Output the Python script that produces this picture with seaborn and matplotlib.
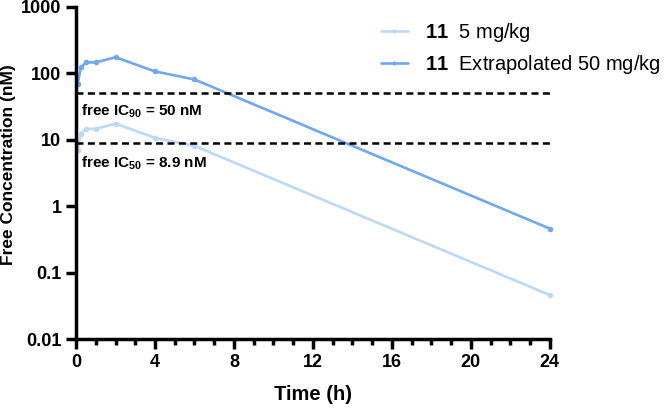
import numpy as np
import pandas as pd
import matplotlib
matplotlib.use("Agg")
import matplotlib.pyplot as plt
import seaborn as sns
from matplotlib.ticker import FixedLocator, MultipleLocator, NullLocator

# PK data
time_h = [0.083, 0.25, 0.5, 1, 2, 4, 6, 24]
conc_5 = [7.0, 12.3, 14.6, 14.6, 17.5, 10.7, 8.1, 0.046]
conc_50 = [70, 123, 146, 146, 175, 107, 81, 0.46]
labels = [r"$\mathbf{11}$  5 mg/kg", r"$\mathbf{11}$  Extrapolated 50 mg/kg"]
colors = ["#bcd8f8", "#6ea8ef"]
ic90 = 50
ic50 = 8.9
y_ticks = [0.01, 0.1, 1, 10, 100, 1000]
y_ticklabels = ["0.01", "0.1", "1", "10", "100", "1000"]
x_ticks = [0, 4, 8, 12, 16, 20, 24]

df = pd.DataFrame({
    "time": time_h * 2,
    "conc": conc_5 + conc_50,
    "dose": [labels[0]] * len(time_h) + [labels[1]] * len(time_h),
})

sns.set_style("ticks")
plt.rcParams["font.family"] = ["Liberation Sans", "DejaVu Sans"]
plt.rcParams["mathtext.fontset"] = "custom"
plt.rcParams["mathtext.rm"] = "Liberation Sans"
plt.rcParams["mathtext.bf"] = "Liberation Sans:bold"
plt.rcParams["text.color"] = "black"
plt.rcParams["axes.labelcolor"] = "black"
plt.rcParams["xtick.color"] = "black"
plt.rcParams["ytick.color"] = "black"
plt.rcParams["axes.edgecolor"] = "black"

fig = plt.figure(figsize=(6.64, 4.09), dpi=100)
ax = fig.add_axes([0.1145, 0.171, 0.7135, 0.812])

sns.lineplot(data=df, x="time", y="conc", hue="dose", palette=colors,
             marker="o", markersize=4, markeredgewidth=0, linewidth=1.9,
             ax=ax, legend=False, clip_on=False)

ax.set_yscale("log")
ax.set_ylim(0.01, 1000)
ax.set_xlim(0, 24)

# threshold lines
dash = (0, (2.8, 1.75))
ax.axhline(ic90, color="black", linestyle=dash, linewidth=1.8)
ax.axhline(ic50, color="black", linestyle=dash, linewidth=1.8)
ax.text(0.25, 27, r"free IC$_{\mathbf{90}}$ = 50 nM", fontsize=11, fontweight="bold", va="center")
ax.text(0.25, 4.4, r"free IC$_{\mathbf{50}}$ = 8.9 nM", fontsize=11, fontweight="bold", va="center")

ax.yaxis.set_major_locator(FixedLocator(y_ticks))
ax.yaxis.set_minor_locator(NullLocator())
ax.set_yticklabels(y_ticklabels)
ax.set_xticks(x_ticks)
ax.xaxis.set_minor_locator(MultipleLocator(1))

for s in ["left", "bottom"]:
    ax.spines[s].set_linewidth(2.5)
sns.despine(ax=ax)
ax.tick_params(axis="both", which="major", width=2.5, length=7, labelsize=13, direction="out")
ax.tick_params(axis="x", which="minor", width=2.5, length=4, direction="out")
for lab in ax.get_xticklabels() + ax.get_yticklabels():
    lab.set_fontweight("bold")

ax.set_xlabel("Time (h)", fontsize=14.5, fontweight="bold", labelpad=10)
ax.set_ylabel("Free Concentration (nM)", fontsize=12.5, fontweight="bold")
ax.yaxis.set_label_coords(-0.127, 0.524)

handles = [plt.Line2D([], [], color=c, marker="o", markersize=3, markeredgewidth=0, linewidth=1.9)
           for c in colors]
fig.legend(handles, labels, loc="upper left", bbox_to_anchor=(0.547, 0.994),
           frameon=False, fontsize=14.5, handlelength=1.3, handletextpad=0.85,
           labelspacing=0.45)

fig.savefig("out.png", dpi=100)
